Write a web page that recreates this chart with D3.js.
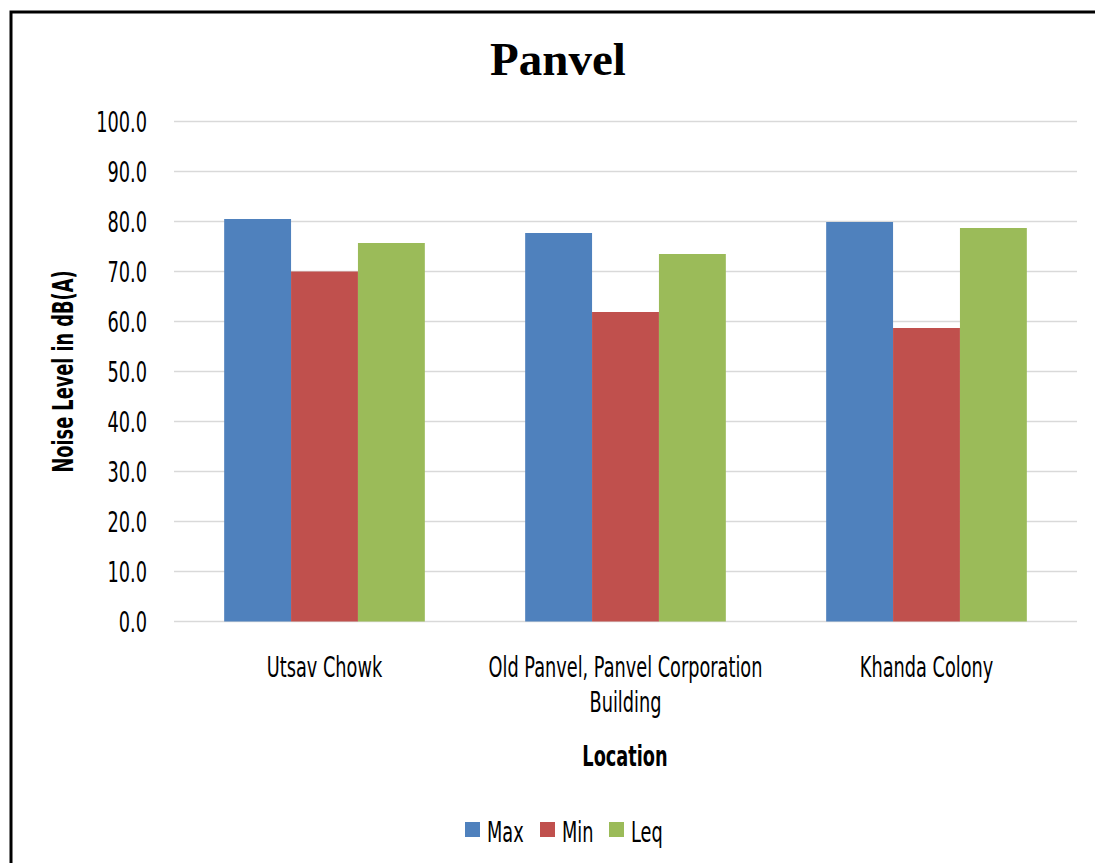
<!DOCTYPE html>
<html>
<head>
<meta charset="utf-8">
<script src="https://cdn.jsdelivr.net/npm/d3@7"></script>
<style>
  html, body { margin: 0; padding: 0; background: #fff; overflow: hidden; }
</style>
</head>
<body>
<svg id="chart" width="1095" height="863"></svg>
<script>
const categories = ["Utsav Chowk", "Old Panvel, Panvel Corporation Building", "Khanda Colony"];
const categoryLines = [["Utsav Chowk"], ["Old Panvel, Panvel Corporation", "Building"], ["Khanda Colony"]];
const seriesNames = ["Max", "Min", "Leq"];
const maxValues = [80.5, 77.7, 79.9];
const minValues = [70.0, 61.9, 58.7];
const leqValues = [75.7, 73.5, 78.7];
const yTicks = [0, 10, 20, 30, 40, 50, 60, 70, 80, 90, 100];
const colors = ["#4F81BD", "#C0504D", "#9BBB59"];

const seriesValues = [maxValues, minValues, leqValues];
const data = categories.map((c, i) => ({ cat: c, vals: seriesNames.map((s, j) => ({ s, v: seriesValues[j][i] })) }));

const FONT = "'DejaVu Sans Condensed', 'Liberation Sans Narrow', sans-serif";
const FS = 29, SX = 0.68;

const svg = d3.select("#chart");

// helper: horizontally condensed text (emulates a tall narrow face)
function ctext(parent, x, y, str, opts = {}) {
  const g = parent.append("g")
    .attr("transform", `translate(${x},${y})${opts.rotate ? ` rotate(${opts.rotate})` : ""} scale(${SX},1)`);
  return g.append("text").attr("x", 0).attr("y", 0)
    .attr("text-anchor", opts.anchor || "start")
    .attr("font-size", opts.size || FS)
    .attr("font-weight", opts.bold ? "bold" : "normal")
    .style("font-family", FONT).attr("fill", "#000").text(str);
}

// outer chart border (extends past right/bottom edges)
svg.append("rect").attr("x", 11).attr("y", 12).attr("width", 1100).attr("height", 870)
  .attr("fill", "#fff").attr("stroke", "#000").attr("stroke-width", 3);

const plotLeft = 174, plotRight = 1077, plotTop = 121.5, plotBottom = 621.5;

const x0 = d3.scaleBand().domain(categories).range([plotLeft, plotRight]).paddingInner(1/3).paddingOuter(1/6);
const x1 = d3.scaleBand().domain(seriesNames).range([0, x0.bandwidth()]);
const y = d3.scaleLinear().domain([0, 100]).range([plotBottom, plotTop]);

// gridlines
svg.append("g").selectAll("line").data(yTicks).join("line")
  .attr("x1", plotLeft).attr("x2", plotRight)
  .attr("y1", d => y(d)).attr("y2", d => y(d))
  .attr("stroke", "#d9d9d9").attr("stroke-width", 1.6);

// y tick labels
const fmt = d3.format(".1f");
const yl = svg.append("g");
yTicks.forEach(t => {
  ctext(yl, 147, y(t) + 10.5, fmt(t), { anchor: "end" });
});

// bars
svg.append("g").selectAll("g").data(data).join("g")
  .attr("transform", d => `translate(${x0(d.cat)},0)`)
  .selectAll("rect").data(d => d.vals).join("rect")
  .attr("x", d => x1(d.s)).attr("width", x1.bandwidth())
  .attr("y", d => y(d.v)).attr("height", d => y(0) - y(d.v))
  .attr("fill", (d, i) => colors[i]);

// category labels
const xl = svg.append("g");
categories.forEach((c, i) => {
  const cx = x0(c) + x0.bandwidth() / 2;
  categoryLines[i].forEach((ln, k) => {
    ctext(xl, cx, 677 + k * 35, ln, { anchor: "middle" });
  });
});

// title
svg.append("text").attr("x", 558).attr("y", 75).attr("text-anchor", "middle")
  .style("font-family", "'Liberation Serif', 'Times New Roman', serif").attr("font-weight", "bold")
  .attr("font-size", 47).attr("fill", "#000").text("Panvel");

// axis titles
ctext(svg, 625, 766, "Location", { anchor: "middle", bold: true });
ctext(svg, 73, (plotTop + plotBottom) / 2, "Noise Level in dB(A)", { anchor: "middle", bold: true, rotate: -90 });

// legend
const legendX = [465, 540, 609];
const lg = svg.append("g");
seriesNames.forEach((s, i) => {
  lg.append("rect").attr("x", legendX[i]).attr("y", 822).attr("width", 15).attr("height", 15).attr("fill", colors[i]);
  ctext(lg, legendX[i] + 22, 842, s);
});
</script>
</body>
</html>
